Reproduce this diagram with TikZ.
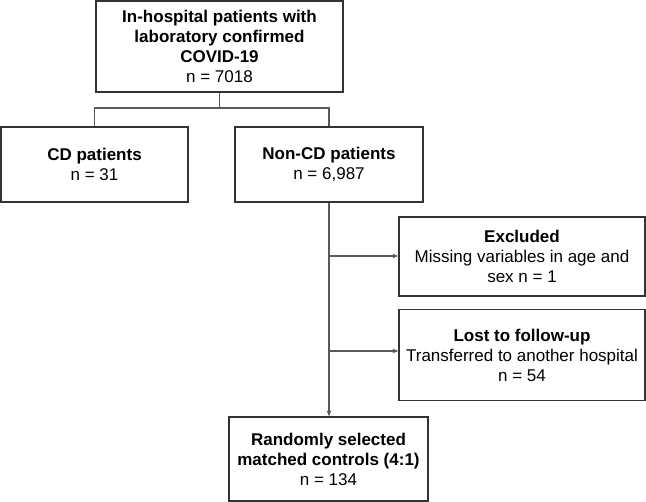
\documentclass[tikz,border=0pt]{standalone}
\usepackage{fontspec}
\setmainfont{Liberation Sans}
\usetikzlibrary{arrows.meta,calc}
\begin{document}
\begin{tikzpicture}[x=1pt,y=-1pt,
  box/.style={draw=black!80, line width=1.2pt, rectangle, align=center, inner sep=0pt, font=\fontsize{17}{20}\selectfont},
  conn/.style={draw=black!65, line width=1.1pt},
  arr/.style={conn, -{Stealth[length=6pt,width=4.5pt]}}]
\useasboundingbox (0,0) rectangle (646,502);
\node[box, minimum width=247pt, minimum height=91pt] (top) at (219.5,46.5)
  {\textbf{In-hospital patients with}\\\textbf{laboratory confirmed}\\\textbf{COVID-19}\\n = 7018};
\node[box, minimum width=187pt, minimum height=75pt] (cd) at (94.5,164.5)
  {\textbf{CD patients}\\n = 31};
\node[box, minimum width=188pt, minimum height=75pt] (noncd) at (329,164.5)
  {\textbf{Non-CD patients}\\n = 6,987};
\node[box, minimum width=246pt, minimum height=79pt] (exc) at (522,256.5)
  {\textbf{Excluded}\\Missing variables in age and\\sex n = 1};
\node[box, minimum width=246pt, minimum height=91pt] (lost) at (522,355)
  {\textbf{Lost to follow-up}\\Transferred to another hospital\\n = 54};
\node[box, minimum width=199pt, minimum height=84pt] (rand) at (328.5,459)
  {\textbf{Randomly selected}\\\textbf{matched controls (4:1)}\\n = 134};
\coordinate (split) at (219.5,108);
\coordinate (s1) at (329,256);
\coordinate (s2) at (329,351);
\draw[conn] (top.south) -- (split);
\draw[conn] (cd.north) -- (cd.north |- split) -- (noncd.north |- split) -- (noncd.north);
\draw[arr] (noncd.south) -- (rand.north -| noncd.south);
\draw[arr] (s1) -- (s1 -| exc.west);
\draw[arr] (s2) -- (s2 -| lost.west);
\end{tikzpicture}
\end{document}
